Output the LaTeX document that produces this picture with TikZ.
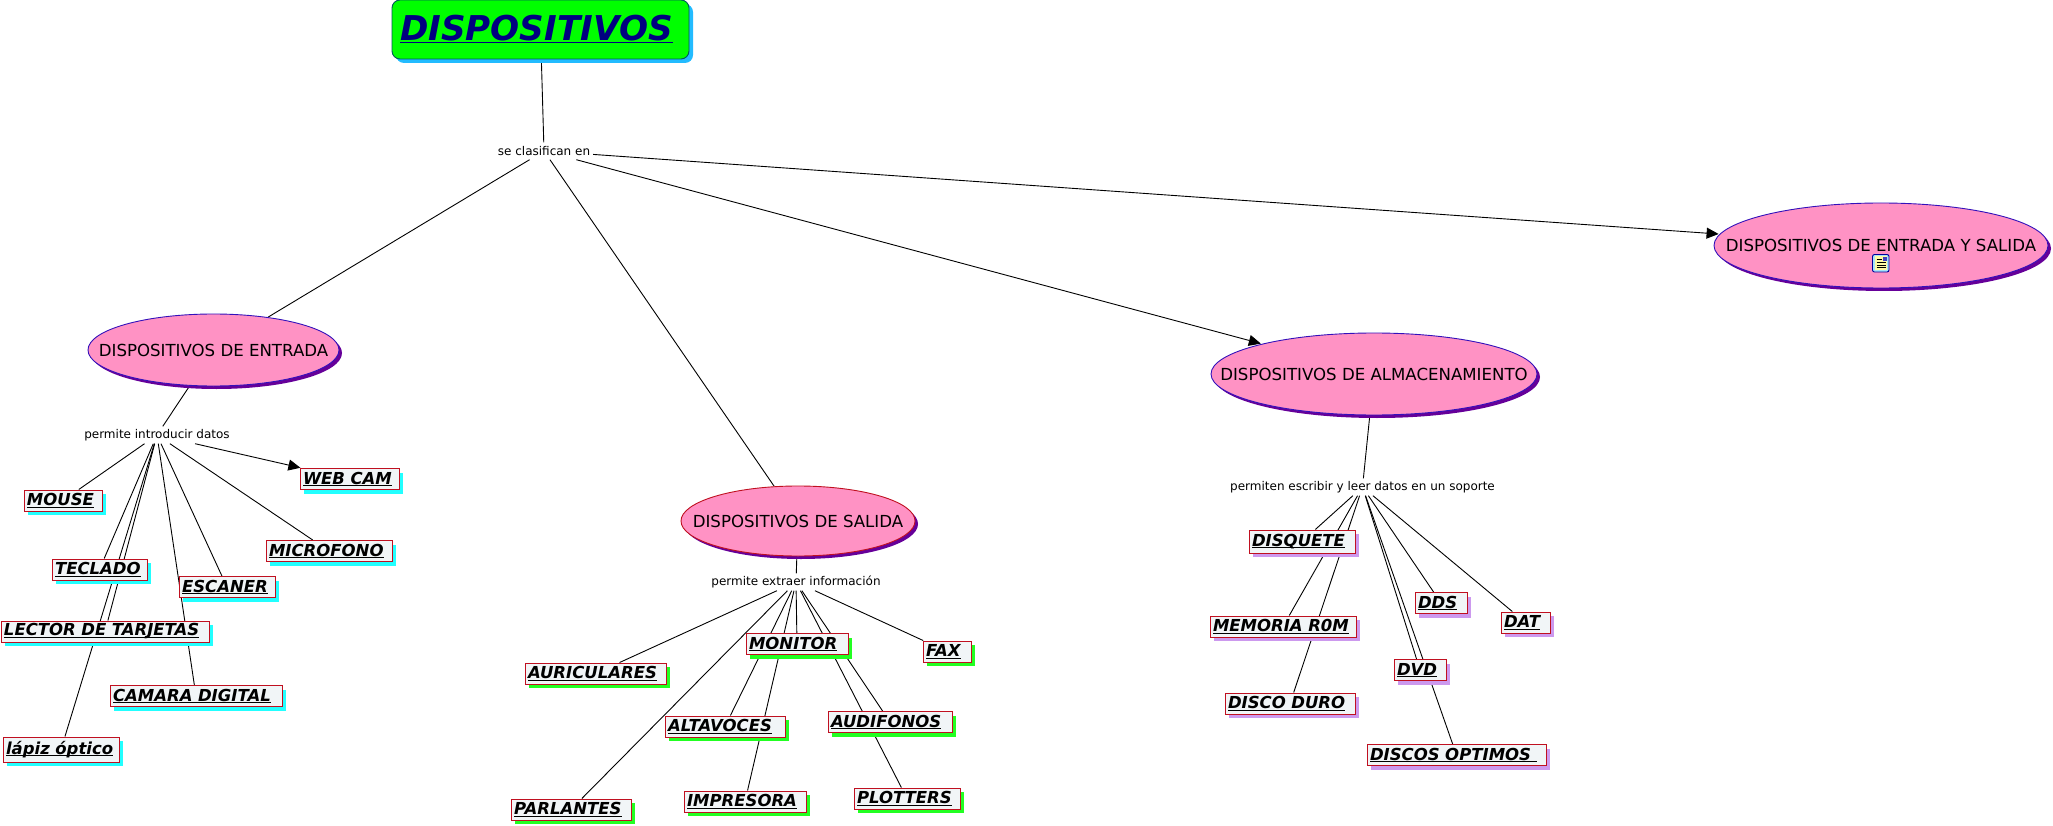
\documentclass[tikz,border=0pt]{standalone}
\usepackage{fontspec}
\setmainfont{DejaVu Sans}
\usetikzlibrary{shapes.geometric,shadows,arrows.meta}
\pgfdeclarelayer{background}
\pgfsetlayers{background,main}
\definecolor{boxred}{HTML}{C01020}
\definecolor{boxfill}{HTML}{F1F5F7}
\definecolor{pinkfill}{HTML}{FF92C4}
\definecolor{cyanshadow}{HTML}{22FFFF}
\definecolor{greenshadow}{HTML}{22FF22}
\definecolor{lilacshadow}{HTML}{CC99EE}
\definecolor{ovalshadow}{HTML}{660099}
\definecolor{titleshadow}{HTML}{22BBFF}
\definecolor{ovalblue}{HTML}{3311BB}
\newcommand\ulbox[1]{\setbox0\hbox{#1}\lower1pt\hbox{\rlap{\rule[-2pt]{\wd0}{1pt}}\box0}}
\newcommand\ulboxt[1]{\setbox0\hbox{#1}\lower1pt\hbox{\rlap{\rule[-2.5pt]{\wd0}{1.3pt}}\box0}}
\tikzset{
  x=1pt,y=-1pt,
  tbox/.style={draw=boxred,fill=boxfill,line width=1pt,inner xsep=3pt,inner ysep=0pt,
    minimum height=21pt,text width=#1-6pt,align=left,
    font=\fontsize{16.5}{20}\selectfont\bfseries\itshape},
  cyanbox/.style={tbox=#1,general shadow={fill=cyanshadow,shadow xshift=4pt,shadow yshift=-4pt}},
  greenbox/.style={tbox=#1,general shadow={fill=greenshadow,shadow xshift=4pt,shadow yshift=-4pt}},
  lilacbox/.style={tbox=#1,general shadow={fill=lilacshadow,shadow xshift=4pt,shadow yshift=-4pt}},
  oval/.style={ellipse,draw=#1,fill=pinkfill,line width=0.9pt,inner sep=0pt,
    font=\fontsize{16.6}{20}\selectfont,
    general shadow={fill=ovalshadow,shadow xshift=3pt,shadow yshift=-3pt}},
  linklabel/.style={inner sep=0pt,minimum height=17pt,font=\fontsize{12}{15}\selectfont},
  link/.style={line width=0.9pt,black},
  arrowlink/.style={link,-{Triangle[length=12pt,width=11pt]},shorten >=1pt},
}
\begin{document}
\begin{tikzpicture}
\useasboundingbox (0,0) rectangle (2053,826);
% title
\node[draw=black!30!teal,fill=green,line width=0.9pt,rounded corners=8pt,
  minimum width=297pt,minimum height=59pt,inner xsep=8pt,inner ysep=0pt,text=blue!50!black,
  text width=281pt,align=left,
  font=\fontsize{34.2}{40}\selectfont\bfseries\itshape,
  general shadow={fill=titleshadow,shadow xshift=4pt,shadow yshift=-4pt}]
  (title) at (540.5,29.5) {\ulboxt{DISPOSITIVOS}};
% link labels
\node[linklabel,minimum width=98pt] (clas) at (544,151) {se clasifican en};
\node[linklabel,minimum width=150pt] (intro) at (157,435) {permite introducir datos};
\node[linklabel,minimum width=172pt] (extra) at (796,582) {permite extraer información};
\node[linklabel,minimum width=270pt] (escr) at (1362.5,487) {permiten escribir y leer datos en un soporte};
% ovals
\node[oval=ovalblue,minimum width=251pt,minimum height=72pt] (ent) at (213.5,350) {\makebox[0pt]{DISPOSITIVOS DE ENTRADA}};
\node[oval=boxred,minimum width=234pt,minimum height=70pt] (sal) at (798,521) {\makebox[0pt]{DISPOSITIVOS DE SALIDA}};
\node[oval=ovalblue,minimum width=326pt,minimum height=82pt] (alm) at (1374,374) {\makebox[0pt]{DISPOSITIVOS DE ALMACENAMIENTO}};
\node[oval=ovalblue,minimum width=334pt,minimum height=85pt] (es) at (1881,245.5) {\makebox[0pt]{\raisebox{1pt}{DISPOSITIVOS DE ENTRADA Y SALIDA}}};
% icon in the last oval
\draw[draw=blue!60!black,fill=cyan!35,line width=0.9pt,rounded corners=2pt] (1872.5,254.5) rectangle (1889,272);
\fill[yellow!35] (1875,256.5) rectangle (1887,270);
\draw[black,line width=0.9pt] (1876.5,259.5)--(1881.5,259.5) (1876.5,262.5)--(1885.5,262.5) (1876.5,265)--(1885.5,265) (1876.5,267.5)--(1885.5,267.5);
\fill[blue!50!gray] (1882.5,257) rectangle (1886.5,261);
% entrada boxes
\node[cyanbox=78pt] (mouse) at (63,500.5) {\ulbox{MOUSE}};
\node[cyanbox=95pt] (tecl) at (99.5,569.5) {\ulbox{TECLADO}};
\node[cyanbox=96pt] (esc) at (227,587) {\ulbox{ESCANER}};
\node[cyanbox=208pt] (lect) at (105,631.5) {\ulbox{LECTOR DE TARJETAS}};
\node[cyanbox=172pt] (cam) at (196,696) {\ulbox{CAMARA DIGITAL}};
\node[cyanbox=116pt,minimum height=25pt] (lapiz) at (61,749.5) {\ulbox{lápiz óptico}};
\node[cyanbox=126pt] (micro) at (329,551) {\ulbox{MICROFONO}};
\node[cyanbox=99pt] (web) at (349.5,479) {\ulbox{WEB CAM}};
% salida boxes
\node[greenbox=102pt] (moni) at (797,644) {\ulbox{MONITOR}};
\node[greenbox=141pt] (auri) at (595.5,673.5) {\ulbox{AURICULARES}};
\node[greenbox=48pt] (fax) at (947,651.5) {\ulbox{FAX}};
\node[greenbox=120pt] (alta) at (725,726.5) {\ulbox{ALTAVOCES}};
\node[greenbox=124pt] (audi) at (890,722) {\ulbox{AUDIFONOS}};
\node[greenbox=120pt] (parl) at (571,809.5) {\ulbox{PARLANTES}};
\node[greenbox=122pt] (impr) at (745,801.5) {\ulbox{IMPRESORA}};
\node[greenbox=106pt] (plot) at (907,798.5) {\ulbox{PLOTTERS}};
% almacenamiento boxes
\node[lilacbox=106pt,minimum height=23pt] (disq) at (1302,541.5) {\ulbox{DISQUETE}};
\node[lilacbox=146pt] (memo) at (1283,626.5) {\ulbox{MEMORIA R0M}};
\node[lilacbox=130pt] (duro) at (1290,703.5) {\ulbox{DISCO DURO}};
\node[lilacbox=52pt] (dds) at (1441,603) {\ulbox{DDS}};
\node[lilacbox=49pt] (dat) at (1525.5,622.5) {\ulbox{DAT}};
\node[lilacbox=52pt] (dvd) at (1420,670) {\ulbox{DVD}};
\node[lilacbox=179pt] (opti) at (1456.5,755) {\ulbox{DISCOS OPTIMOS\ }};
% connectors
\begin{pgfonlayer}{background}
\draw[link] (title) -- (clas);
\draw[link] (clas) -- (ent);
\draw[link] (clas) -- (sal);
\draw[arrowlink] (clas) -- (alm);
\draw[arrowlink] (clas) -- (es);
\draw[link] (ent) -- (intro);
\draw[link] (sal) -- (extra);
\draw[link] (alm) -- (escr);
\foreach \t in {mouse,tecl,esc,lect,cam,lapiz,micro} \draw[link] (intro) -- (\t);
\draw[arrowlink] (intro) -- (web);
\foreach \t in {moni,auri,fax,alta,audi,parl,impr,plot} \draw[link] (extra) -- (\t);
\foreach \t in {disq,memo,duro,dds,dat,dvd,opti} \draw[link] (escr) -- (\t);
\end{pgfonlayer}
\end{tikzpicture}
\end{document}
